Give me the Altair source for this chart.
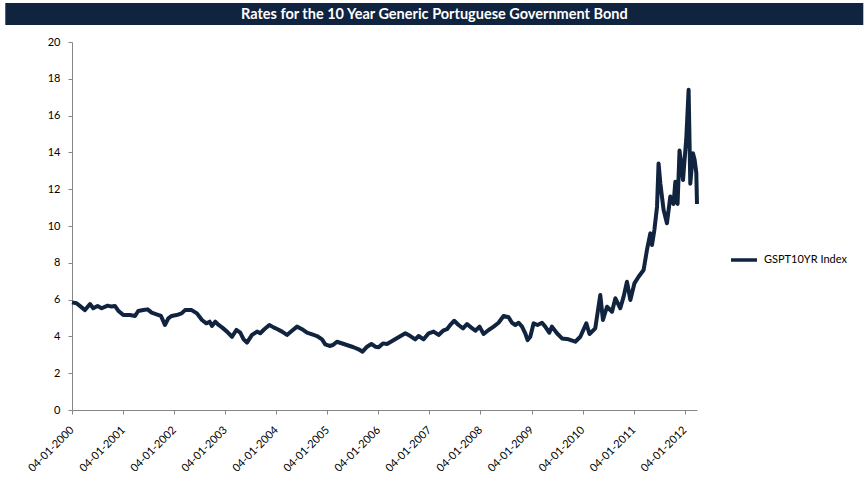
import altair as alt
import pandas as pd

# ---- data ----
dates = [
    "2000-01-04", "2000-02-06", "2000-03-13", "2000-04-06", "2000-05-12", "2000-06-04",
    "2000-07-05", "2000-08-03", "2000-09-15", "2000-10-13", "2000-11-07", "2000-11-30",
    "2001-01-05", "2001-02-22", "2001-03-30", "2001-04-22", "2001-05-28", "2001-06-28",
    "2001-07-27", "2001-08-31", "2001-10-02", "2001-10-30", "2001-11-23", "2001-12-17",
    "2002-01-21", "2002-02-26", "2002-03-23", "2002-05-09", "2002-06-16", "2002-07-22",
    "2002-08-22", "2002-09-15", "2002-10-02", "2002-10-25", "2002-11-18", "2002-12-12",
    "2003-01-17", "2003-02-22", "2003-03-25", "2003-04-22", "2003-05-16", "2003-06-09",
    "2003-07-15", "2003-08-20", "2003-09-12", "2003-10-11", "2003-11-16", "2003-12-16",
    "2004-01-14", "2004-02-15", "2004-03-21", "2004-04-26", "2004-06-01", "2004-07-07",
    "2004-08-11", "2004-09-28", "2004-10-22", "2004-11-27", "2004-12-20", "2005-01-20",
    "2005-02-13", "2005-03-14", "2005-07-11", "2005-08-16", "2005-09-13", "2005-10-15",
    "2005-11-15", "2005-12-13", "2006-01-06", "2006-02-06", "2006-03-07", "2006-07-16",
    "2006-08-21", "2006-09-25", "2006-10-19", "2006-11-24", "2006-12-30", "2007-02-03",
    "2007-03-11", "2007-04-12", "2007-05-10", "2007-06-08", "2007-07-01", "2007-08-01",
    "2007-09-02", "2007-09-30", "2007-10-29", "2007-11-29", "2007-12-29", "2008-01-27",
    "2008-03-03", "2008-04-08", "2008-05-13", "2008-06-18", "2008-07-24", "2008-08-17",
    "2008-09-10", "2008-10-04", "2008-10-28", "2008-11-20", "2008-12-07", "2008-12-26",
    "2009-01-19", "2009-02-16", "2009-03-20", "2009-04-12", "2009-05-11", "2009-05-30",
    "2009-07-05", "2009-08-10", "2009-09-26", "2009-11-13", "2009-12-19", "2010-01-31",
    "2010-02-23", "2010-04-05", "2010-05-11", "2010-05-30", "2010-06-28", "2010-08-03",
    "2010-08-27", "2010-10-01", "2010-10-25", "2010-11-18", "2010-12-12", "2011-01-10",
    "2011-02-09", "2011-03-17", "2011-04-10", "2011-05-04", "2011-05-16", "2011-06-02",
    "2011-06-21", "2011-07-02", "2011-07-15", "2011-08-07", "2011-08-31", "2011-09-24",
    "2011-10-17", "2011-10-30", "2011-11-15", "2011-11-29", "2011-12-24", "2012-01-02",
    "2012-01-16", "2012-02-02", "2012-02-14", "2012-03-04", "2012-03-16", "2012-03-28",
    "2012-04-02",
]
rates = [
    5.85, 5.80, 5.58, 5.43, 5.76, 5.53,
    5.65, 5.53, 5.67, 5.62, 5.65, 5.40,
    5.16, 5.16, 5.11, 5.38, 5.43, 5.47,
    5.29, 5.20, 5.11, 4.62, 4.98, 5.11,
    5.16, 5.25, 5.43, 5.43, 5.25, 4.89,
    4.71, 4.80, 4.57, 4.80, 4.62, 4.49,
    4.26, 3.98, 4.35, 4.20, 3.84, 3.66,
    4.08, 4.26, 4.17, 4.39, 4.62, 4.49,
    4.39, 4.26, 4.08, 4.31, 4.53, 4.39,
    4.20, 4.08, 4.02, 3.84, 3.57, 3.48,
    3.53, 3.71, 3.41, 3.30, 3.17, 3.44,
    3.59, 3.44, 3.41, 3.62, 3.59, 4.17,
    4.02, 3.84, 4.02, 3.84, 4.17, 4.26,
    4.08, 4.31, 4.39, 4.67, 4.85, 4.62,
    4.44, 4.67, 4.49, 4.31, 4.53, 4.13,
    4.35, 4.53, 4.74, 5.11, 5.04, 4.74,
    4.62, 4.74, 4.53, 4.17, 3.80, 3.98,
    4.71, 4.62, 4.74, 4.53, 4.20, 4.53,
    4.17, 3.89, 3.84, 3.71, 3.98, 4.71,
    4.13, 4.44, 6.25, 4.89, 5.61, 5.34,
    6.07, 5.53, 6.16, 6.97, 5.98, 6.88,
    7.24, 7.61, 8.70, 9.60, 8.97, 9.78,
    11.05, 13.40, 12.30, 10.87, 10.15, 11.60,
    11.20, 12.40, 11.20, 14.10, 12.50, 13.40,
    14.70, 17.40, 12.30, 13.95, 13.60, 12.90,
    11.20,
]
series_name = "GSPT10YR Index"
title_text = "Rates for the 10 Year Generic Portuguese Government Bond"
tick_years = list(range(2000, 2013))
y_ticks = list(range(0, 21, 2))

df = pd.DataFrame({"date": dates, "rate": rates, "series": [series_name] * len(dates)})

NAVY = "#10233f"
W, H = 625, 368
FONT = "Lato"

line = alt.Chart(df).mark_line(strokeWidth=4, strokeJoin="round").encode(
    x=alt.X(
        "date:T",
        scale=alt.Scale(
            type="utc",
            domain=[alt.DateTime(year=2000, month=1, date=4, utc=True),
                    alt.DateTime(year=2012, month=4, date=2, utc=True)],
            nice=False,
        ),
        axis=alt.Axis(
            values=[alt.DateTime(year=y, month=1, date=4, utc=True) for y in tick_years],
            labelExpr="utcFormat(datum.value, '%d-%m-%Y')",
            labelAngle=-45,
            labelAlign="right",
            labelBaseline="middle",
            labelPadding=14,
            tickSize=4,
            title=None,
            grid=False,
            labelOverlap=False,
        ),
    ),
    y=alt.Y(
        "rate:Q",
        scale=alt.Scale(domain=[0, 20], nice=False),
        axis=alt.Axis(values=y_ticks, title=None, grid=False, tickSize=4, labelPadding=8),
    ),
    color=alt.Color(
        "series:N",
        scale=alt.Scale(range=[NAVY]),
        legend=alt.Legend(
            title=None,
            orient="none",
            legendX=657,
            legendY=203,
            symbolType="stroke",
            symbolSize=676,
            symbolStrokeWidth=3.5,
            labelFont=FONT,
            labelFontSize=11,
            labelColor="#000000",
            labelOffset=5,
            padding=0,
        ),
    ),
)

band = alt.Chart(pd.DataFrame({"k": [0]})).mark_rect(color=NAVY).encode(
    x=alt.value(-66.7), x2=alt.value(791.3), y=alt.value(-39), y2=alt.value(-17)
)

title = alt.Chart(pd.DataFrame({"t": [title_text]})).mark_text(
    color="white", font=FONT, fontWeight="bold", fontSize=14.5, align="center", baseline="middle"
).encode(text="t:N", x=alt.value(362.3), y=alt.value(-27))

chart = (
    alt.layer(band, title, line)
    .properties(
        width=W,
        height=H,
        padding={"left": 5, "top": 3, "right": 0, "bottom": 0},
        autosize=alt.AutoSizeParams(type="pad"),
        background="white",
    )
    .configure_view(stroke=None)
    .configure_axis(
        domainColor="#868686",
        tickColor="#868686",
        labelColor="#000000",
        labelFont=FONT,
        labelFontSize=11,
    )
)

chart.save("out.html", embed_options={"renderer": "svg", "actions": False})
